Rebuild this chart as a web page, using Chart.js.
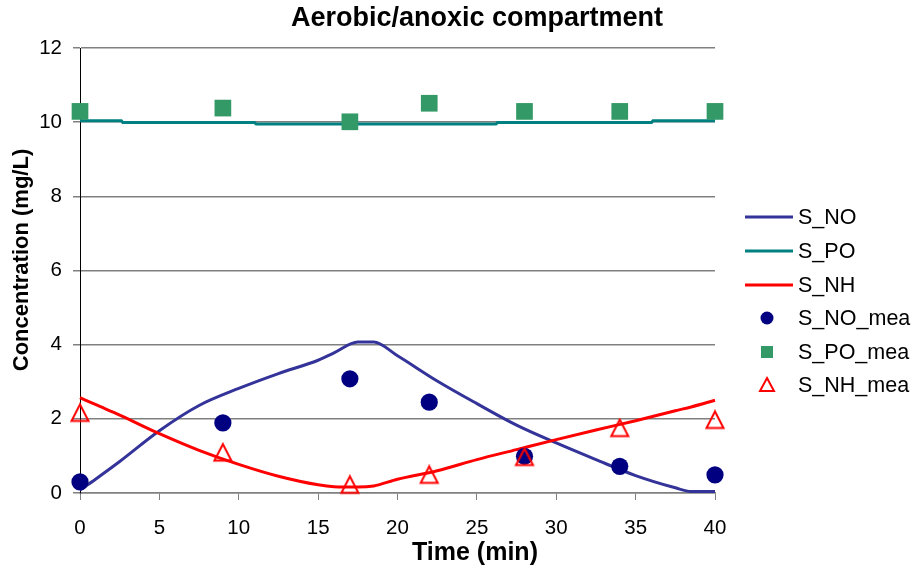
<!DOCTYPE html>
<html>
<head>
<meta charset="utf-8">
<script src="https://cdn.jsdelivr.net/npm/chart.js@4"></script>
<style>
  html, body { margin: 0; padding: 0; background: #ffffff; }
  #wrap { width: 916px; height: 572px; position: relative; }
</style>
</head>
<body>
<div id="wrap"><canvas id="c" width="916" height="572"></canvas></div>
<script>
// ---- data ----
const chartTitle = "Aerobic/anoxic compartment";
const xTitle = "Time (min)";
const yTitle = "Concentration (mg/L)";

const simTime = [0, 1, 2.5, 5, 7.5, 10, 12.5, 15, 16, 17.5, 18.5, 20, 22.5, 25, 27.5, 30, 32.5, 35, 37.5, 38.5, 40];
const sNO     = [0.08, 0.38, 0.85, 1.68, 2.36, 2.82, 3.22, 3.58, 3.78, 4.07, 4.07, 3.7, 3.02, 2.41, 1.83, 1.35, 0.9, 0.47, 0.14, 0.04, 0.04];
const sNH     = [2.57, 2.38, 2.1, 1.6, 1.15, 0.77, 0.45, 0.22, 0.17, 0.16, 0.19, 0.37, 0.6, 0.9, 1.17, 1.44, 1.7, 1.95, 2.22, 2.32, 2.5];

const poTime  = [0, 2.6, 2.7, 11, 11.1, 26.2, 26.3, 36, 36.1, 40];
const sPO     = [10.04, 10.04, 9.99, 9.99, 9.95, 9.95, 9.99, 9.99, 10.04, 10.04];

const measTime = [0, 9, 17, 22, 28, 34, 40];
const sNOmea   = [0.3, 1.89, 3.08, 2.45, 0.99, 0.72, 0.49];
const sPOmea   = [10.29, 10.38, 10.01, 10.51, 10.29, 10.29, 10.29];
const sNHmea   = [2.16, 1.09, 0.22, 0.49, 0.97, 1.75, 1.97];

const xTicks = [0, 5, 10, 15, 20, 25, 30, 35, 40];
const yTicks = [0, 2, 4, 6, 8, 10, 12];

const seriesNames = ["S_NO", "S_PO", "S_NH", "S_NO_mea", "S_PO_mea", "S_NH_mea"];

// ---- helpers ----
function pts(xs, ys) { return xs.map((x, i) => ({ x: x, y: ys[i] })); }

function makeTriangle(color) {
  const c = document.createElement('canvas');
  c.width = 22; c.height = 21;
  const g = c.getContext('2d');
  g.strokeStyle = color;
  g.lineWidth = 2;
  g.lineJoin = 'miter';
  g.beginPath();
  g.moveTo(11, 2);
  g.lineTo(19.5, 18.5);
  g.lineTo(2.5, 18.5);
  g.closePath();
  g.stroke();
  return c;
}
const triImg = makeTriangle('#FF0000');

const FONT = "'Liberation Sans', Arial, sans-serif";
const GRID = '#808080';

const lineStyle = (color, ord) => ({
  showLine: true, borderColor: color, backgroundColor: color, borderWidth: 3,
  pointRadius: 0, pointHoverRadius: 0, tension: 0, cubicInterpolationMode: 'monotone',
  order: ord, clip: false
});

const datasets = [
  Object.assign({ label: seriesNames[0], data: pts(simTime, sNO) }, lineStyle('#333399', 5)),
  Object.assign({ label: seriesNames[1], data: pts(poTime, sPO) }, lineStyle('#008080', 4), { cubicInterpolationMode: 'default' }),
  Object.assign({ label: seriesNames[2], data: pts(simTime, sNH) }, lineStyle('#FF0000', 3)),
  { label: seriesNames[3], data: pts(measTime, sNOmea), showLine: false, pointStyle: 'circle',
    pointRadius: 8.6, backgroundColor: '#000080', borderColor: '#000080', borderWidth: 0, order: 2, clip: false },
  { label: seriesNames[4], data: pts(measTime, sPOmea), showLine: false, pointStyle: 'rect',
    pointRadius: 11.8, backgroundColor: '#339966', borderColor: '#339966', borderWidth: 0, order: 1, clip: false },
  { label: seriesNames[5], data: pts(measTime, sNHmea), showLine: false, pointStyle: triImg,
    pointRadius: 10, backgroundColor: '#FF0000', borderColor: '#FF0000', borderWidth: 0, order: 0, clip: false }
];

// legend + titles drawn as canvas text
const decor = {
  id: 'decor',
  afterDraw(chart) {
    const ctx = chart.ctx;
    ctx.save();
    ctx.fillStyle = '#000000';
    ctx.textBaseline = 'middle';
    // chart title
    ctx.font = "bold 27px " + FONT;
    ctx.textAlign = 'center';
    ctx.fillText(chartTitle, 477, 19);
    // x title
    ctx.font = "bold 25px " + FONT;
    ctx.fillText(xTitle, 475, 553);
    // y title
    ctx.save();
    ctx.translate(22, 260);
    ctx.rotate(-Math.PI / 2);
    ctx.font = "bold 22px " + FONT;
    ctx.fillText(yTitle, 0, 0);
    ctx.restore();
    // legend
    const ys = [217, 251, 285, 318, 352, 385];
    ctx.font = "21.5px " + FONT;
    ctx.textAlign = 'left';
    chart.data.datasets.forEach((ds, i) => {
      const y = ys[i];
      if (ds.showLine) {
        ctx.strokeStyle = ds.borderColor;
        ctx.lineWidth = 3;
        ctx.beginPath();
        ctx.moveTo(745, y);
        ctx.lineTo(793, y);
        ctx.stroke();
      } else if (ds.pointStyle === 'circle') {
        ctx.fillStyle = ds.backgroundColor;
        ctx.beginPath();
        ctx.arc(767, y, 6.5, 0, Math.PI * 2);
        ctx.fill();
      } else if (ds.pointStyle === 'rect') {
        ctx.fillStyle = ds.backgroundColor;
        ctx.fillRect(761, y - 6, 12, 12);
      } else {
        ctx.strokeStyle = ds.borderColor;
        ctx.lineWidth = 2;
        ctx.beginPath();
        ctx.moveTo(767, y - 7);
        ctx.lineTo(774, y + 6);
        ctx.lineTo(760, y + 6);
        ctx.closePath();
        ctx.stroke();
      }
      ctx.fillStyle = '#000000';
      ctx.fillText(ds.label, 798, y + 1);
    });
    ctx.restore();
  }
};

new Chart(document.getElementById('c'), {
  type: 'scatter',
  data: { datasets: datasets },
  options: {
    responsive: false,
    animation: false,
    events: [],
    layout: { padding: { top: 48, right: 201, left: 0, bottom: 0 } },
    plugins: { legend: { display: false }, title: { display: false }, tooltip: { enabled: false } },
    scales: {
      x: {
        type: 'linear', min: 0, max: 40,
        afterBuildTicks: (s) => { s.ticks = xTicks.map(v => ({ value: v })); },
        afterFit: (s) => { s.height = 79; },
        ticks: { color: '#000000', font: { family: FONT, size: 20.5 }, padding: 16, maxRotation: 0, autoSkip: false },
        grid: { drawOnChartArea: false, drawTicks: true, tickLength: 7, color: GRID, lineWidth: 1 },
        border: { display: true, color: GRID, width: 1.5 }
      },
      y: {
        type: 'linear', min: 0, max: 12,
        afterBuildTicks: (s) => { s.ticks = yTicks.map(v => ({ value: v })); },
        afterFit: (s) => { s.width = 80; },
        ticks: { color: '#000000', font: { family: FONT, size: 20.5 }, padding: 11 },
        grid: { drawOnChartArea: true, drawTicks: true, tickLength: 7, color: GRID, lineWidth: 1.5 },
        border: { display: true, color: '#000000', width: 1 }
      }
    }
  },
  plugins: [decor]
});
</script>
</body>
</html>
